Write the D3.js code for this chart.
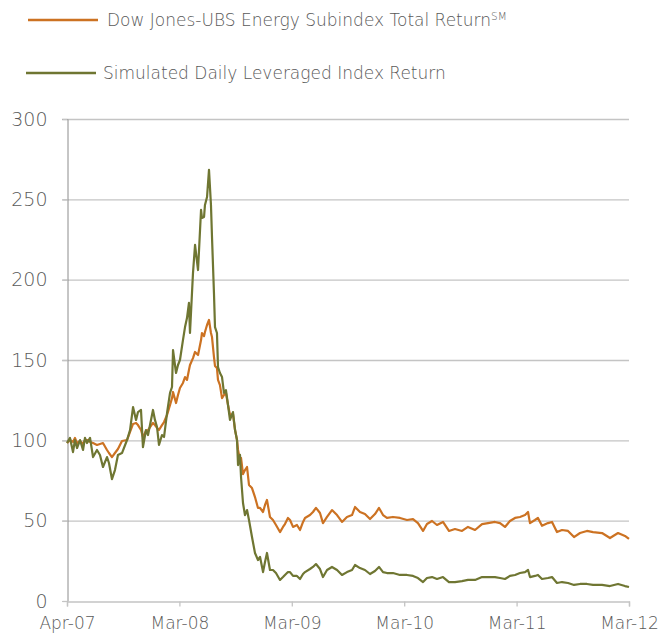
<!DOCTYPE html>
<html>
<head>
<meta charset="utf-8">
<script src="https://cdn.jsdelivr.net/npm/d3@7"></script>
<style>
  html, body { margin: 0; padding: 0; background: #fff; }
  svg { display: block; }
  text { font-family: "DejaVu Sans", Lato, sans-serif; font-weight: 200; }
</style>
</head>
<body>
<svg id="chart" width="662" height="636"></svg>
<script>
// Months since the first observation (Apr-07 = 0, Mar-12 = 60)
const months = [0,0.32,0.64,0.85,1.07,1.39,1.71,1.92,2.14,2.46,2.78,3.20,3.52,3.84,4.27,4.48,4.80,5.12,5.44,5.87,6.41,6.73,7.05,7.37,7.58,7.90,8.11,8.43,8.65,9.18,9.39,9.61,9.82,10.14,10.36,10.68,11.00,11.21,11.32,11.64,11.85,12.06,12.38,12.60,12.81,13.02,13.13,13.45,13.67,13.99,14.31,14.41,14.63,14.73,14.95,15.16,15.37,15.48,15.69,15.80,16.01,16.12,16.33,16.55,16.76,16.97,17.19,17.40,17.72,17.94,18.15,18.26,18.47,18.58,18.79,19.00,19.22,19.43,19.75,20.07,20.39,20.61,20.93,21.14,21.35,21.67,21.99,22.31,22.74,23.06,23.27,23.59,23.81,24.13,24.55,24.88,25.20,25.41,25.94,26.26,26.58,27.01,27.33,27.76,28.29,28.83,29.36,29.89,30.43,30.75,31.28,31.81,32.35,32.88,33.31,33.74,34.16,34.80,35.55,36.30,36.94,37.47,38.01,38.43,38.97,39.50,40.14,40.78,41.42,42.17,42.81,43.56,44.31,44.95,45.69,46.23,46.76,47.29,47.83,48.36,48.90,49.22,49.43,49.96,50.28,50.71,51.35,51.78,52.31,52.85,53.49,54.13,54.77,55.51,56.16,57.12,57.97,58.83,59.57,60.00];

const djubs = [98.3,100.2,99.0,101.5,98.3,99.6,97.7,100.2,100.2,99.0,98.3,97.1,97.7,98.3,94.0,92.1,89.6,92.1,94.6,99.6,100.2,105.2,110.2,110.8,109.5,106.4,102.1,105.8,106.4,110.8,109.5,107.7,106.4,109.5,111.4,115.8,122.0,126.3,130.1,123.2,128.2,132.6,135.7,139.4,137.6,143.8,146.9,151.2,155.0,153.1,162.4,166.8,164.9,167.4,171.8,174.9,166.8,164.3,151.9,146.3,145.0,137.6,134.4,126.3,128.2,129.5,122.0,115.8,116.4,106.4,100.2,94.0,87.8,89.0,79.0,81.5,83.4,72.2,70.3,64.7,57.9,57.9,55.4,59.8,62.9,52.3,50.4,47.3,42.9,46.1,47.9,51.7,50.4,46.1,47.3,44.2,49.2,51.7,53.5,55.4,58.0,54.8,48.5,52.3,56.6,53.5,49.2,52.3,53.5,58.5,55.4,54.1,51.0,54.1,57.9,53.5,51.7,52.3,51.7,50.4,51.0,48.5,43.6,47.9,49.8,47.3,49.2,43.6,44.8,43.6,46.1,44.2,47.9,48.5,49.2,48.5,46.1,49.8,51.7,52.3,53.5,55.4,48.5,50.4,51.7,46.8,48.5,49.2,42.9,44.2,43.6,39.8,42.3,43.6,42.9,42.3,39.2,42.3,40.5,38.6];

const leveraged = [98.3,101.5,92.7,100.2,95.2,100.2,94.0,101.5,98.3,101.5,89.6,94.0,90.9,83.4,89.6,85.9,75.9,81.5,90.9,92.1,100.2,106.4,120.7,112.7,117.6,118.9,95.8,106.4,103.3,118.9,112.7,108.3,97.1,103.3,102.1,117.0,129.5,133.2,156.2,141.9,146.9,150.0,162.4,170.5,176.1,185.5,166.8,204.1,221.6,206.0,243.4,238.4,239.0,246.5,251.4,268.3,246.5,226.6,191.7,170.5,166.8,145.6,141.9,139.4,129.5,131.3,122.0,112.7,117.6,106.4,100.2,84.6,90.9,77.2,61.0,53.5,56.6,50.4,39.8,29.9,25.5,27.4,18.0,24.3,29.9,19.3,19.3,17.4,13.1,14.9,16.2,18.0,18.0,15.6,15.6,13.7,16.8,18.0,19.9,21.2,23.0,19.9,14.9,19.3,21.2,19.3,16.2,18.0,19.3,22.4,20.5,19.3,16.8,18.7,21.2,18.0,17.4,17.4,16.2,16.2,15.6,14.3,11.8,14.3,14.9,13.7,14.9,11.8,11.8,12.4,13.1,13.1,14.9,14.9,14.9,14.3,13.7,15.6,16.2,17.4,18.0,19.3,14.9,15.6,16.2,13.7,14.3,14.9,11.2,11.8,11.2,10.0,10.6,10.6,10.0,10.0,9.3,10.6,9.3,8.7];

const xTickMonths = [0, 12, 24, 36, 48, 60];
const xTickLabels = ["Apr-07", "Mar-08", "Mar-09", "Mar-10", "Mar-11", "Mar-12"];
const yTicks = [0, 50, 100, 150, 200, 250, 300];
const seriesNames = ["Dow Jones-UBS Energy Subindex Total Return", "Simulated Daily Leveraged Index Return"];

const colors = { orange: "#CC7222", green: "#6F7632", grid: "#C4C4C4", axis: "#8C8C8C", text: "#595959" };

const svg = d3.select("#chart");
const plotLeft = 67, plotRight = 629, plotTop = 119, plotBottom = 601;

const x = d3.scaleLinear().domain([0, 60]).range([plotLeft, plotRight]);
const y = d3.scaleLinear().domain([0, 300]).range([plotBottom, plotTop]);

// gridlines
svg.append("g")
  .selectAll("line")
  .data(yTicks.filter(d => d > 0))
  .join("line")
  .attr("x1", plotLeft - 5).attr("x2", plotRight)
  .attr("y1", d => y(d) + 0.5).attr("y2", d => y(d) + 0.5)
  .attr("stroke", colors.grid).attr("stroke-width", 1.3);

// y axis
const yAxis = svg.append("g")
  .attr("transform", `translate(${plotLeft + 0.5},0)`)
  .call(d3.axisLeft(y).tickValues(yTicks).tickSize(5).tickPadding(15).tickFormat(d3.format("d")));
yAxis.select(".domain").attr("stroke", colors.axis);
yAxis.selectAll(".tick line").attr("stroke", colors.grid).attr("stroke-width", 1.3);
yAxis.selectAll("text").attr("fill", colors.text)
  .style("font-size", "19px").style("font-family", "'DejaVu Sans', Lato, sans-serif").style("font-weight", 200);

// x axis
const xAxis = svg.append("g")
  .attr("transform", `translate(0,${plotBottom + 0.5})`)
  .call(d3.axisBottom(x).tickValues(xTickMonths).tickSize(5).tickPadding(10)
    .tickFormat((d, i) => xTickLabels[i]));
xAxis.select(".domain").attr("stroke", colors.grid).attr("stroke-width", 1.3);
xAxis.selectAll(".tick line").attr("stroke", colors.grid).attr("stroke-width", 1.3);
xAxis.selectAll("text").attr("fill", colors.text)
  .style("font-size", "17px").style("font-family", "'DejaVu Sans', Lato, sans-serif").style("font-weight", 200);

// lines
const line = d3.line().x((d, i) => x(months[i])).y(d => y(d));
svg.append("path").datum(djubs)
  .attr("fill", "none").attr("stroke", colors.orange).attr("stroke-width", 2.2)
  .attr("stroke-linejoin", "round").attr("d", line);
svg.append("path").datum(leveraged)
  .attr("fill", "none").attr("stroke", colors.green).attr("stroke-width", 2.2)
  .attr("stroke-linejoin", "round").attr("d", line);

// legend
const legend = svg.append("g");
const legendItems = [
  { name: seriesNames[0], color: colors.orange, ly: 20, x1: 28, x2: 98, tx: 107, sup: "SM" },
  { name: seriesNames[1], color: colors.green, ly: 73, x1: 26, x2: 96, tx: 103, sup: null }
];
legendItems.forEach(it => {
  legend.append("line")
    .attr("x1", it.x1).attr("x2", it.x2).attr("y1", it.ly).attr("y2", it.ly)
    .attr("stroke", it.color).attr("stroke-width", 2.5);
  const t = legend.append("text")
    .attr("x", it.tx).attr("y", it.ly + 6)
    .attr("fill", colors.text).style("font-size", "17px");
  t.append("tspan").text(it.name);
  if (it.sup) {
    t.append("tspan").attr("dy", -6).style("font-size", "10.5px").text(it.sup);
  }
});
</script>
</body>
</html>
